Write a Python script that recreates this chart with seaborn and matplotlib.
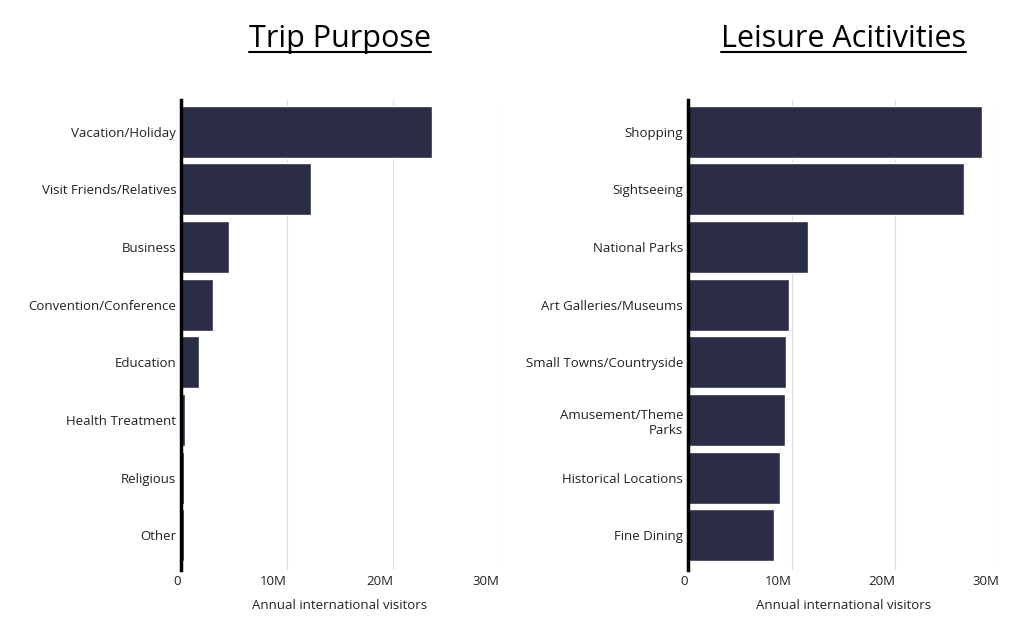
import matplotlib
matplotlib.use("Agg")
import matplotlib.pyplot as plt
import seaborn as sns
import pandas as pd
from matplotlib.ticker import FuncFormatter

purpose_labels = ["Vacation/Holiday", "Visit Friends/Relatives", "Business", "Convention/Conference",
                  "Education", "Health Treatment", "Religious", "Other"]
purpose_values = [23.7, 12.3, 4.5, 3.0, 1.7, 0.4, 0.3, 0.3]

leisure_labels = ["Shopping", "Sightseeing", "National Parks", "Art Galleries/Museums",
                  "Small Towns/Countryside", "Amusement/Theme\nParks", "Historical Locations", "Fine Dining"]
leisure_values = [28.4, 26.6, 11.6, 9.7, 9.5, 9.4, 8.9, 8.3]

sns.set_style("white")
plt.rcParams['font.family'] = ['Open Sans', 'DejaVu Sans']

fig = plt.figure(figsize=(10.24, 6.18), dpi=100)
ax1 = fig.add_axes([181/1024, 1-570/618, 318/1024, 470/618])
ax2 = fig.add_axes([688/1024, 1-570/618, 311/1024, 470/618])

def fmt(v, pos):
    return "0" if v == 0 else f"{int(v)}M"

for ax, labels, values, title in [(ax1, purpose_labels, purpose_values, "Trip Purpose"),
                                  (ax2, leisure_labels, leisure_values, "Leisure Acitivities")]:
    df = pd.DataFrame({"label": labels, "value": values})
    sns.barplot(data=df, y="label", x="value", color="#2a2d45", saturation=1, width=0.9, ax=ax)
    ax.set_xlim(0, 30)
    ax.set_ylim(len(labels) - 0.4, -0.55)
    ax.set_xticks([0, 10, 20, 30])
    ax.xaxis.set_major_formatter(FuncFormatter(fmt))
    for lab in ax.get_xticklabels():
        lab.set_horizontalalignment("right")
    ax.grid(axis="x", color="#dddddd", linewidth=0.8)
    ax.set_axisbelow(True)
    for s in ["top", "right", "bottom"]:
        ax.spines[s].set_visible(False)
    ax.spines["left"].set_linewidth(2.5)
    ax.spines["left"].set_color("black")
    ax.tick_params(axis="both", length=0, labelsize=9.5, colors="#222222")
    ax.set_ylabel("")
    ax.set_xlabel("Annual international visitors", fontsize=9.5, color="#222222", labelpad=8)
    ax.set_title(title, fontsize=22, pad=38, color="black")
    ax.title.set_fontproperties(ax.title.get_fontproperties())

# underline titles
fig.canvas.draw()
r = fig.canvas.get_renderer()
for ax in (ax1, ax2):
    bb = ax.title.get_window_extent(r).transformed(fig.transFigure.inverted())
    fig.add_artist(plt.Line2D([bb.x0, bb.x1], [bb.y0 + 0.004, bb.y0 + 0.004],
                              transform=fig.transFigure, color="black", linewidth=1.5))

fig.savefig("out.png", dpi=100)
